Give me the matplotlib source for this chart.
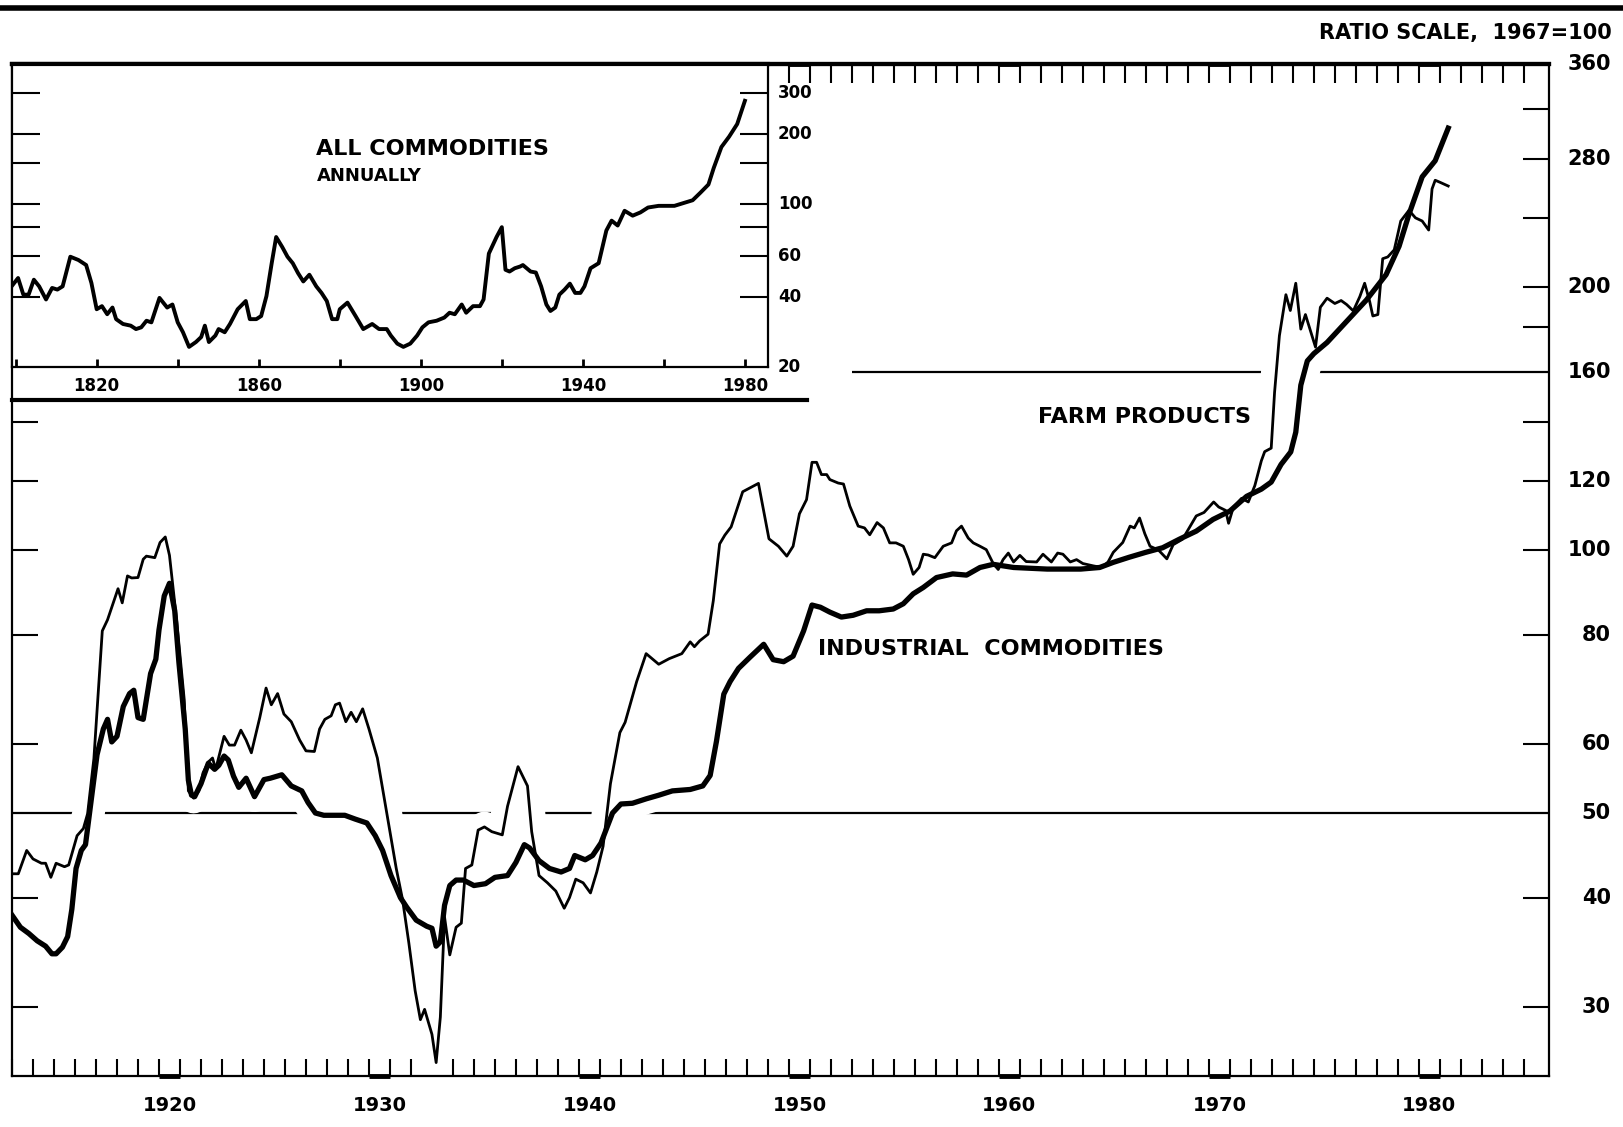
import matplotlib
matplotlib.use('Agg')
import matplotlib.pyplot as plt
from matplotlib.lines import Line2D
from matplotlib.ticker import NullLocator, NullFormatter

# monthly-ish readings, 1967=100
farm_years = [1913.0, 1913.3, 1913.7, 1914.0, 1914.4, 1914.6, 1914.85, 1915.1, 1915.5, 1915.7,
              1916.1, 1916.4, 1916.6, 1916.9, 1917.3, 1917.55, 1918.05, 1918.25, 1918.5, 1918.7,
              1919.0, 1919.25, 1919.4, 1919.8, 1920.05, 1920.3, 1920.5, 1920.85, 1921.2, 1921.4,
              1921.65, 1921.9, 1922.1, 1922.35, 1922.55, 1922.7, 1923.1, 1923.35, 1923.6, 1923.9,
              1924.15, 1924.4, 1924.8, 1925.1, 1925.35, 1925.65, 1925.95, 1926.3, 1926.7, 1927.0,
              1927.4, 1927.65, 1927.9, 1928.2, 1928.4, 1928.6, 1928.9, 1929.15, 1929.4, 1929.7,
              1930.0, 1930.4, 1930.85, 1931.3, 1931.6, 1931.9, 1932.2, 1932.45, 1932.65, 1933.0,
              1933.2, 1933.4, 1933.6, 1933.85, 1934.15, 1934.4, 1934.6, 1934.9, 1935.2, 1935.5,
              1935.85, 1936.35, 1936.6, 1937.1, 1937.55, 1937.75, 1938.1, 1938.5, 1938.9, 1939.3,
              1939.55, 1939.85, 1940.2, 1940.55, 1940.85, 1941.15, 1941.5, 1941.95, 1942.2, 1942.75,
              1943.2, 1943.8, 1944.3, 1944.9, 1945.3, 1945.5, 1945.75, 1946.15, 1946.4, 1946.7,
              1946.95, 1947.25, 1947.8, 1948.55, 1949.05, 1949.5, 1949.9, 1950.2, 1950.5, 1950.84,
              1951.1, 1951.32, 1951.55, 1951.8, 1951.95, 1952.35, 1952.6, 1952.9, 1953.3, 1953.6,
              1953.85, 1954.2, 1954.5, 1954.8, 1955.1, 1955.45, 1955.7, 1955.92, 1956.2, 1956.4,
              1956.63, 1956.95, 1957.35, 1957.75, 1957.98, 1958.22, 1958.54, 1958.78, 1959.1, 1959.4,
              1959.73, 1959.97, 1960.2, 1960.45, 1960.7, 1961.0, 1961.3, 1961.8, 1962.1, 1962.5,
              1962.8, 1963.05, 1963.4, 1963.7, 1964.0, 1964.5, 1964.9, 1965.2, 1965.45, 1965.9,
              1966.25, 1966.45, 1966.7, 1966.95, 1967.2, 1967.6, 1968.0, 1968.3, 1968.75, 1969.4,
              1969.77, 1970.23, 1970.47, 1970.8, 1970.94, 1971.17, 1971.56, 1971.88, 1972.19, 1972.5,
              1972.66, 1972.97, 1973.13, 1973.36, 1973.67, 1973.88, 1974.14, 1974.38, 1974.6, 1975.08,
              1975.31, 1975.63, 1976.0, 1976.3, 1976.56, 1976.88, 1977.19, 1977.42, 1977.66, 1977.81,
              1978.05, 1978.28, 1978.52, 1978.83, 1979.14, 1979.53, 1979.84, 1980.16, 1980.47, 1980.63,
              1980.78, 1981.02, 1981.4]
farm_index = [42.6, 42.6, 45.3, 44.3, 43.8, 43.8, 42.2, 43.8, 43.4, 43.6,
              47.1, 48.0, 49.9, 57.7, 80.8, 83.2, 90.3, 87.0, 93.4, 92.9,
              93.0, 97.6, 98.4, 98.0, 102.0, 103.5, 98.6, 82.7, 67.5, 53.0,
              52.0, 53.0, 55.6, 57.2, 57.8, 56.1, 61.2, 59.8, 59.8, 62.2,
              60.6, 58.6, 64.3, 69.5, 66.5, 68.5, 64.9, 63.6, 60.6, 58.9,
              58.8, 62.4, 64.0, 64.6, 66.5, 66.8, 63.6, 65.2, 63.6, 65.8,
              62.4, 57.8, 50.0, 43.2, 39.8, 35.5, 31.3, 29.0, 29.8, 27.9,
              25.9, 29.2, 38.0, 34.4, 37.0, 37.4, 43.2, 43.6, 47.8, 48.2,
              47.6, 47.2, 50.9, 56.5, 53.7, 47.6, 42.4, 41.6, 40.7, 38.9,
              40.0, 42.0, 41.6, 40.5, 42.8, 45.8, 54.0, 61.8, 63.5, 70.7,
              76.1, 74.0, 75.1, 76.1, 78.5, 77.5, 78.7, 80.1, 87.5, 101.6,
              104.0, 106.3, 116.6, 119.2, 103.0, 101.0, 98.4, 101.0, 110.0, 114.2,
              126.0, 126.0, 122.0, 122.0, 120.4, 119.3, 119.0, 112.3, 106.5, 106.0,
              104.1, 107.5, 106.0, 101.9, 101.9, 101.0, 97.5, 93.8, 95.5, 98.9,
              98.7, 98.0, 101.0, 101.9, 105.2, 106.5, 103.2, 101.9, 101.0, 100.1,
              96.5, 95.0, 97.5, 99.2, 96.9, 98.6, 97.0, 96.9, 98.9, 96.9,
              99.2, 98.9, 96.9, 97.5, 96.5, 95.9, 95.5, 96.9, 99.4, 102.0,
              106.5, 106.0, 108.8, 104.4, 101.0, 100.0, 97.7, 101.4, 102.9, 109.4,
              110.4, 113.5, 112.0, 111.0, 107.3, 112.0, 114.6, 113.5, 118.5, 126.5,
              129.6, 130.8, 151.5, 175.9, 196.0, 188.0, 202.0, 179.0, 186.0, 170.7,
              189.6, 194.2, 191.5, 193.0, 191.0, 187.8, 195.0, 202.0, 192.5, 185.3,
              186.0, 215.5, 216.5, 220.6, 238.0, 244.8, 240.0, 238.0, 232.4, 259.0,
              265.0, 263.5, 261.0]

ind_years = [1913.0, 1913.4, 1913.8, 1914.2, 1914.6, 1914.9, 1915.1, 1915.4, 1915.65, 1915.85,
             1916.05, 1916.3, 1916.5, 1916.8, 1917.05, 1917.35, 1917.55, 1917.75, 1918.0, 1918.3,
             1918.6, 1918.8, 1919.0, 1919.25, 1919.6, 1919.85, 1920.0, 1920.25, 1920.5, 1920.75,
             1920.95, 1921.25, 1921.4, 1921.55, 1921.7, 1922.0, 1922.35, 1922.65, 1922.85, 1923.1,
             1923.3, 1923.55, 1923.8, 1924.15, 1924.55, 1925.0, 1925.3, 1925.85, 1926.3, 1926.8,
             1927.1, 1927.45, 1927.85, 1928.85, 1929.35, 1929.9, 1930.3, 1930.65, 1931.05, 1931.5,
             1931.8, 1932.25, 1932.75, 1933.0, 1933.2, 1933.4, 1933.6, 1933.85, 1934.15, 1934.5,
             1935.0, 1935.55, 1936.0, 1936.6, 1937.0, 1937.4, 1937.65, 1938.1, 1938.6, 1939.15,
             1939.55, 1939.8, 1940.0, 1940.3, 1940.65, 1941.05, 1941.6, 1942.0, 1942.55, 1943.2,
             1943.8, 1944.45, 1945.3, 1945.9, 1946.25, 1946.55, 1946.9, 1947.2, 1947.6, 1948.15,
             1948.8, 1949.25, 1949.75, 1950.2, 1950.7, 1951.1, 1951.5, 1951.95, 1952.5, 1953.06,
             1953.7, 1954.3, 1954.97, 1955.45, 1955.92, 1956.4, 1957.03, 1957.8, 1958.46, 1959.1,
             1959.73, 1960.7, 1962.3, 1963.9, 1964.8, 1965.45, 1966.2, 1967.0, 1967.8, 1968.6,
             1969.4, 1970.2, 1971.0, 1971.8, 1972.5, 1972.97, 1973.44, 1973.9, 1974.14, 1974.38,
             1974.69, 1975.0, 1975.63, 1976.56, 1977.5, 1978.44, 1979.06, 1979.53, 1980.16, 1980.78,
             1981.4]
ind_index = [38.2, 37.0, 36.4, 35.7, 35.2, 34.5, 34.5, 35.1, 36.1, 38.8,
             43.2, 45.3, 46.0, 52.4, 58.3, 62.4, 64.0, 60.3, 61.2, 66.2,
             68.5, 69.1, 64.3, 64.0, 72.2, 75.0, 81.0, 88.6, 91.6, 85.2,
             74.3, 62.4, 54.5, 52.4, 52.2, 54.0, 57.0, 56.1, 56.7, 58.1,
             57.5, 55.1, 53.5, 54.8, 52.2, 54.6, 54.8, 55.3, 53.7, 53.0,
             51.4, 50.0, 49.7, 49.7, 49.2, 48.7, 47.1, 45.3, 42.4, 40.0,
             39.0, 37.7, 37.1, 36.9, 35.2, 35.6, 39.2, 41.3, 41.9, 41.9,
             41.3, 41.5, 42.2, 42.4, 43.9, 46.0, 45.6, 44.1, 43.2, 42.8,
             43.2, 44.7, 44.5, 44.2, 44.7, 46.2, 50.0, 51.2, 51.3, 51.9,
             52.4, 53.0, 53.2, 53.7, 55.2, 60.4, 68.4, 70.7, 73.2, 75.4,
             78.0, 74.9, 74.5, 75.6, 80.8, 86.5, 86.0, 84.9, 83.8, 84.2,
             85.2, 85.2, 85.6, 86.8, 89.1, 90.6, 93.0, 93.9, 93.6, 95.5,
             96.3, 95.5, 95.1, 95.1, 95.5, 96.8, 98.1, 99.4, 100.6, 102.9,
             105.1, 108.4, 110.8, 115.2, 117.4, 119.6, 125.3, 129.5, 136.4, 154.4,
             164.6, 167.8, 172.8, 182.7, 193.2, 206.6, 222.7, 242.2, 267.4, 279.0,
             304.0]

# all commodities, annual (inset)
all_years = [1799.0, 1800.6, 1801.9, 1803.2, 1804.5, 1805.8, 1807.5, 1809.0, 1810.3, 1811.6,
             1813.5, 1815.5, 1817.4, 1818.7, 1820.0, 1821.3, 1822.6, 1823.9, 1824.8, 1826.5,
             1828.4, 1829.7, 1831.0, 1832.3, 1833.5, 1835.5, 1837.4, 1838.7, 1840.0, 1841.3,
             1842.8, 1844.5, 1845.8, 1846.7, 1847.7, 1849.3, 1850.1, 1851.6, 1852.9, 1854.8,
             1856.8, 1857.8, 1859.4, 1860.6, 1861.9, 1863.2, 1864.3, 1865.8, 1867.1, 1868.4,
             1869.7, 1871.0, 1872.5, 1874.2, 1875.5, 1876.8, 1878.1, 1879.4, 1880.0, 1881.9,
             1883.9, 1885.8, 1888.0, 1889.7, 1891.6, 1892.6, 1894.2, 1895.7, 1897.4, 1899.1,
             1900.4, 1901.9, 1903.9, 1905.8, 1907.1, 1908.4, 1910.1, 1911.2, 1912.9, 1914.6,
             1915.5, 1916.8, 1918.7, 1920.0, 1920.9, 1921.9, 1923.2, 1924.5, 1925.2, 1927.1,
             1928.4, 1929.7, 1931.0, 1932.0, 1933.2, 1934.2, 1935.5, 1936.8, 1938.1, 1939.4,
             1940.4, 1941.9, 1943.9, 1945.8, 1947.1, 1948.6, 1950.3, 1952.3, 1954.2, 1956.1,
             1958.7, 1962.6, 1965.2, 1967.1, 1969.0, 1971.0, 1972.3, 1974.2, 1976.1, 1978.1,
             1980.0]
all_index = [44.4, 48.2, 40.9, 40.9, 47.4, 44.4, 39.0, 43.7, 43.0, 44.4,
             59.5, 57.6, 54.8, 45.9, 35.4, 36.5, 33.7, 36.0, 32.1, 30.6,
             30.1, 29.1, 29.6, 31.6, 31.1, 39.6, 36.0, 37.1, 31.1, 28.2,
             24.4, 25.6, 26.9, 30.1, 25.6, 27.3, 29.1, 28.2, 30.6, 35.4,
             38.4, 32.1, 32.1, 33.1, 40.3, 55.8, 72.3, 65.5, 59.5, 55.8,
             50.6, 46.6, 49.8, 44.4, 41.6, 38.4, 32.1, 32.1, 35.4, 37.8,
             33.1, 29.1, 30.6, 29.1, 29.1, 27.3, 25.2, 24.4, 25.2, 27.3,
             29.6, 31.1, 31.6, 32.6, 34.2, 33.7, 37.1, 34.2, 36.5, 36.5,
             39.0, 61.4, 72.3, 79.7, 52.3, 51.4, 53.1, 54.0, 54.8, 51.4,
             50.9, 44.4, 37.1, 34.8, 36.0, 40.9, 43.0, 45.6, 41.6, 41.6,
             44.4, 53.1, 55.8, 77.1, 85.0, 81.0, 93.7, 89.3, 92.2, 96.8,
             98.4, 98.4, 101.6, 104.0, 112.0, 121.5, 143.0, 176.0, 195.0, 221.0,
             278.0]

tick_marks = [30, 40, 60, 80, 100, 120, 140, 180, 200, 240, 280, 320]
tick_labels = [30, 40, 50, 60, 80, 100, 120, 160, 200, 280, 360]
decades = [1920, 1930, 1940, 1950, 1960, 1970, 1980]
inset_marks = [40, 60, 80, 100, 150, 200, 300]
inset_labels = [20, 40, 60, 100, 200, 300]
inset_ticks = list(range(1800, 1981, 20))
inset_tick_text = ['', '1820', '', '1860', '', '1900', '', '1940', '', '1980']

W, H = 1623, 1127
fig = plt.figure(figsize=(W / 100, H / 100), dpi=100)
plt.rcParams['font.weight'] = 'bold'

# main chart
ax = fig.add_axes([12 / W, 1 - 1076 / H, 1537 / W, 1012 / H])
ax.set_yscale('log')
ax.set_xlim(1913.0, 1986.2)
ax.set_ylim(25, 360)

ax.axhline(50, color='black', lw=1.6, zorder=1)
ax.hlines(160, 1953.0, 1986.2, color='black', lw=1.6, zorder=1)

# white halo so the reference lines break where the curves pass
for xs, ys in [(farm_years, farm_index), (ind_years, ind_index)]:
    ax.plot(xs, ys, color='white', lw=22, zorder=2, solid_capstyle='butt')
ax.plot(farm_years, farm_index, color='black', lw=2.0, zorder=3, solid_joinstyle='round')
ax.plot(ind_years, ind_index, color='black', lw=3.8, zorder=3, solid_joinstyle='round')

ax.set_yticks(tick_marks)
ax.yaxis.set_major_formatter(NullFormatter())
ax.yaxis.set_minor_locator(NullLocator())
ax.tick_params(axis='y', direction='in', length=19, width=1.5, left=True, right=True,
               labelleft=False, labelright=False)
ax.set_xticks(range(1913, 1986))
ax.xaxis.set_major_formatter(NullFormatter())
ax.tick_params(axis='x', direction='in', length=12, width=1.5, bottom=True, top=False,
               labelbottom=False)

top = ax.secondary_xaxis('top')
top.set_xticks(range(1950, 1986))
top.tick_params(direction='in', length=14, width=1.5, labeltop=False)
top.spines['top'].set_linewidth(3)

for s in ['left', 'right', 'bottom']:
    ax.spines[s].set_linewidth(1.6)
ax.spines['top'].set_linewidth(3)

for d in decades:
    ax.plot([d, d + 1], [0, 0], color='black', lw=3.5, transform=ax.get_xaxis_transform(),
            clip_on=False, zorder=5, solid_capstyle='butt')
    if d >= 1950:
        ax.plot([d, d + 1], [1, 1], color='black', lw=3.5, transform=ax.get_xaxis_transform(),
                clip_on=False, zorder=5, solid_capstyle='butt')
    ax.text(d + 0.5, -0.0287, str(d), transform=ax.get_xaxis_transform(), ha='center',
            va='center', fontsize=14, fontweight='bold')

for v in tick_labels:
    ax.text(1.0403, v, str(v), transform=ax.get_yaxis_transform(), ha='right', va='center',
            fontsize=15, fontweight='bold')

fig.text(1612 / W, 1 - 33 / H, 'RATIO SCALE,  1967=100', ha='right', va='center',
         fontsize=15, fontweight='bold')
fig.text(1038 / W, 1 - 417 / H, 'FARM PRODUCTS', ha='left', va='center', fontsize=16,
         fontweight='bold')
fig.text(818 / W, 1 - 649 / H, 'INDUSTRIAL  COMMODITIES', ha='left', va='center', fontsize=16,
         fontweight='bold')

# inset: all commodities, annually
ins = fig.add_axes([12 / W, 1 - 367 / H, 756 / W, 303 / H])
ins.set_yscale('log')
ins.set_xlim(1799.1, 1985.7)
ins.set_ylim(20, 400)
ins.plot(all_years, all_index, color='black', lw=2.8, solid_joinstyle='round')
ins.set_yticks(inset_marks)
ins.yaxis.set_major_formatter(NullFormatter())
ins.yaxis.set_minor_locator(NullLocator())
ins.tick_params(axis='y', direction='in', length=20, width=1.5, left=True, right=True,
                labelleft=False, labelright=False)
ins.set_xticks(inset_ticks, inset_tick_text)
ins.tick_params(axis='x', direction='in', length=6, width=2, pad=7, labelsize=12)
for s in ['left', 'right', 'bottom']:
    ins.spines[s].set_linewidth(1.6)
ins.spines['top'].set_linewidth(3)
for v in inset_labels:
    ins.text(1.0 + 10 / 756, v, str(v), transform=ins.get_yaxis_transform(), ha='left',
             va='center', fontsize=12, fontweight='bold')
ins.text(0.4027, 0.7195, 'ALL COMMODITIES', transform=ins.transAxes, ha='left', va='center',
         fontsize=16, fontweight='bold')
ins.text(0.4027, 0.6304, 'ANNUALLY', transform=ins.transAxes, ha='left', va='center',
         fontsize=13, fontweight='bold')

fig.add_artist(Line2D([12 / W, 807 / W], [1 - 400 / H, 1 - 400 / H], color='black', lw=3,
                      transform=fig.transFigure))
fig.add_artist(Line2D([0, 1], [1 - 8 / H, 1 - 8 / H], color='black', lw=4,
                      transform=fig.transFigure))

fig.savefig('out.png', dpi=100)
